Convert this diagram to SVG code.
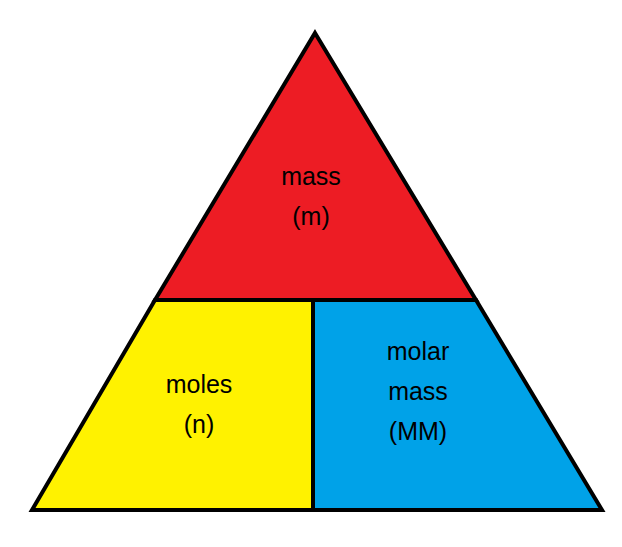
<svg xmlns="http://www.w3.org/2000/svg" width="622" height="547" viewBox="0 0 622 547">
<style>
.s{stroke:#000;stroke-width:4;stroke-linejoin:miter}
.t{font-family:"Liberation Sans","Open Sans",sans-serif;font-size:25px;fill:#000;text-anchor:middle}
</style>
<rect width="622" height="547" fill="#fff"/>
<g id="mass"><polygon class="s" points="315,33 476,300 155,300" fill="#ED1C24"/>
<text class="t" x="311" y="185">mass</text><text class="t" x="311" y="225">(m)</text></g>
<g id="moles"><polygon class="s" points="155,300 313,300 313,510 32,510" fill="#FFF200"/>
<text class="t" x="199" y="393">moles</text><text class="t" x="199" y="433">(n)</text></g>
<g id="molarmass"><polygon class="s" points="313,300 476,300 602,510 313,510" fill="#00A2E8"/>
<text class="t" x="418" y="360">molar</text><text class="t" x="418" y="400">mass</text><text class="t" x="418" y="440">(MM)</text></g>
</svg>
